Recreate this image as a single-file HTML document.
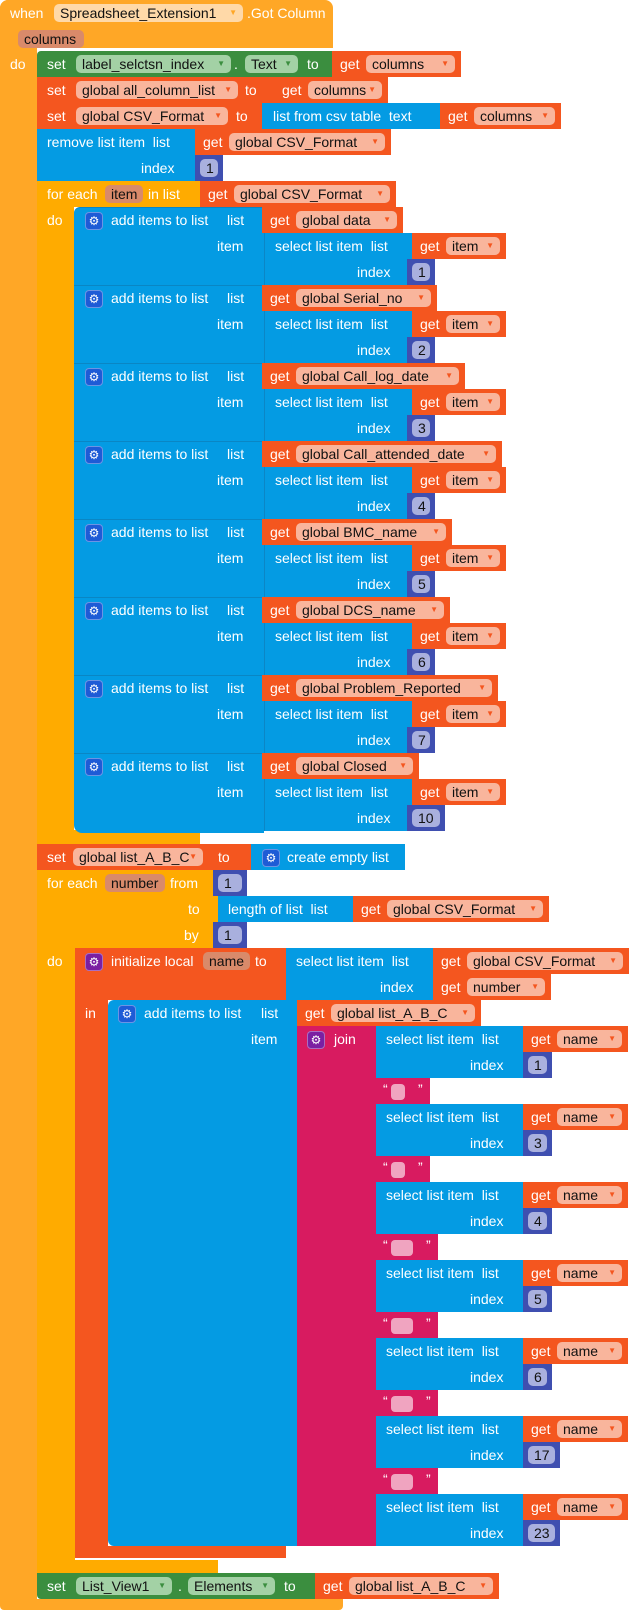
<!DOCTYPE html>
<html><head><meta charset="utf-8">
<style>
html,body{margin:0;padding:0;background:#fff;}
body{width:629px;height:1611px;position:relative;overflow:hidden;font-family:"Liberation Sans",sans-serif;}
.r{position:absolute;}
.t{position:absolute;font-size:14px;line-height:18px;white-space:pre;color:#fff;}
.p{position:absolute;height:18px;border-radius:5px;font-size:14px;line-height:18px;white-space:pre;color:#111;box-sizing:border-box;padding-left:6px;}
.a{position:absolute;right:6px;top:0;font-size:8px;}
.g{position:absolute;width:16px;height:16px;border-radius:4px;color:#fff;font-size:12px;line-height:16px;text-align:center;}
</style></head><body>
<script>
const O='#F4561F',Y='#FFAB00',E='#FFA726',G='#3B8E3F',B='#049BE3',N='#3F4FB0',M='#D81B60',PU='#7B1FA2';
function R(x,y,w,h,c,ex){document.write(`<div class="r" style="left:${x}px;top:${y}px;width:${w}px;height:${h}px;background:${c};${ex||''}"></div>`);}
function T(x,y,s,c){document.write(`<div class="t" style="left:${x}px;top:${y+4}px;${c?'color:'+c:''}">${s}</div>`);}
function P(x,y,w,s,bg,ac){document.write(`<div class="p" style="left:${x}px;top:${y+4}px;width:${w}px;background:${bg}">${s}${ac?`<span class="a" style="color:${ac}">▼</span>`:''}</div>`);}
function GE(x,y,c){document.write(`<div class="g" style="left:${x}px;top:${y+5}px;background:${c};border:1px solid rgba(255,255,255,.35)">⚙</div>`);}
function GET(x,y,w,name){R(x,y,w,26,O);T(x+8,y,'get');P(x+34,y,w-40,name,'#F9B59C',O);}
function NUM(x,y,w,n){R(x,y,w,26,N);P(x+5,y,w-10,n,'#A9B0DE');}
// outer event
R(0,0,333,48,E,'border-radius:8px 8px 0 0');R(0,0,37,1610,E,'border-radius:8px 0 0 8px');R(0,1599,343,11,E,'border-radius:0 0 4px 4px');
T(10,0,'when');P(54,0,189,'Spreadsheet_Extension1','#FFD9A8',E);T(247,0,'.Got Column');
P(18,26,66,'columns','#D98A6A');T(10,51,'do');
// top statements
R(37,51,295,26,G,'border-radius:4px 0 0 0');T(47,51,'set');P(76,51,155,'label_selctsn_index','#A3D1A5',G);T(234,51,'.');P(245,51,53,'Text','#A3D1A5',G);T(307,51,'to');GET(332,51,129,'columns');
R(37,77,237,26,O);T(47,77,'set');P(76,77,162,'global all_column_list','#F9B59C',O);T(245,77,'to');GET(274,77,114,'columns');
R(37,103,225,26,O);T(47,103,'set');P(76,103,152,'global CSV_Format','#F9B59C',O);T(236,103,'to');
R(262,103,178,26,B);T(273,103,'list from csv table  text');GET(440,103,121,'columns');
R(37,129,158,52,B);T(47,129,'remove list item  list');T(141,155,'index');GET(195,129,196,'global CSV_Format');NUM(195,155,28,'1');
// first foreach
R(37,181,163,26,Y);R(37,181,37,663,Y);R(37,830,163,14,Y,'border-radius:0 0 0 4px');
T(47,181,'for each');P(105,181,38,'item','#D98A6A');T(148,181,'in list');GET(200,181,196,'global CSV_Format');T(47,207,'do');
const vars=[['global data',392],['global Serial_no',425],['global Call_log_date',452],['global Call_attended_date',488],['global BMC_name',440],['global DCS_name',438],['global Problem_Reported',484],['global Closed',408]];
const idx=['1','2','3','4','5','6','7','10'];
for(let i=0;i<8;i++){const y=207+78*i;
 R(74,y,190,i==7?80:78,B,'border-top:1px solid #0a86c4;box-sizing:border-box;border-radius:'+(i==0?'6px 0 0 0':'0')+(i==7?';border-radius:0 0 0 8px':''));
 GE(85,y,'#1E5BD6');T(111,y,'add items to list');T(227,y,'list');T(217,y+26,'item');
 GET(262,y,Math.round(vars[i][1]*1.028)-262,vars[i][0]);
 R(264,y+26,148,52,B,'border-left:1px solid #0b86c6;box-sizing:border-box');T(275,y+26,'select list item  list');T(357,y+52,'index');
 GET(412,y+26,94,'item');NUM(407,y+52,idx[i].length>1?38:28,idx[i]);}
// set list_A_B_C
R(37,844,214,26,O);T(47,844,'set');P(73,844,130,'global list_A_B_C','#F9B59C',O);T(218,844,'to');
R(251,844,154,26,B);GE(262,844,'#1E5BD6');T(287,844,'create empty list');
// second foreach
R(37,870,181,78,Y);R(37,870,38,703,Y);R(37,1560,181,13,Y,'border-radius:0 0 0 4px');
T(47,870,'for each');P(105,870,60,'number','#D98A6A');T(170,870,'from');T(188,896,'to');T(184,922,'by');T(47,948,'do');
NUM(213,870,34,'1');NUM(213,922,34,'1');
R(218,896,135,26,B);T(228,896,'length of list  list');GET(353,896,196,'global CSV_Format');
// initialize local
R(75,948,211,52,O,'border-radius:6px 0 0 0');R(75,948,33,610,O);R(75,1546,211,12,O,'border-radius:0 0 0 6px');
GE(85,948,PU);T(111,948,'initialize local');P(203,948,47,'name','#D98A6A');T(255,948,'to');T(85,1000,'in');
R(286,948,147,52,B);T(296,948,'select list item  list');T(380,974,'index');
GET(433,948,196,'global CSV_Format');GET(433,974,118,'number');
// add items inner
R(108,1000,189,546,B,'border-radius:6px 0 0 6px');GE(118,1000,'#1E5BD6');T(144,1000,'add items to list');T(261,1000,'list');T(251,1026,'item');
GET(297,1000,184,'global list_A_B_C');
R(297,1026,79,520,M);GE(307,1026,PU);T(334,1026,'join');
const ji=['1','3','4','5','6','17','23'];
for(let k=0;k<7;k++){const y=1026+78*k;
 R(376,y,147,52,B);T(386,y,'select list item  list');T(470,y+26,'index');
 GET(523,y,105,'name');NUM(523,y+26,ji[k].length>1?37:29,ji[k]);
 if(k<6){const w=k<2?54:62,pw=k<2?14:22;R(376,y+52,w,26,M);T(383,y+50,'“');T(376+w-12,y+50,'”');
  R(391,y+58,pw,16,'#F0A4C0','border-radius:4px');}}
// set List_View1
R(37,1573,278,26,G,'border-radius:0 0 0 4px');T(47,1573,'set');P(76,1573,96,'List_View1','#A3D1A5',G);T(178,1573,'.');P(188,1573,87,'Elements','#A3D1A5',G);T(284,1573,'to');
GET(315,1573,184,'global list_A_B_C');
</script>
</body></html>
